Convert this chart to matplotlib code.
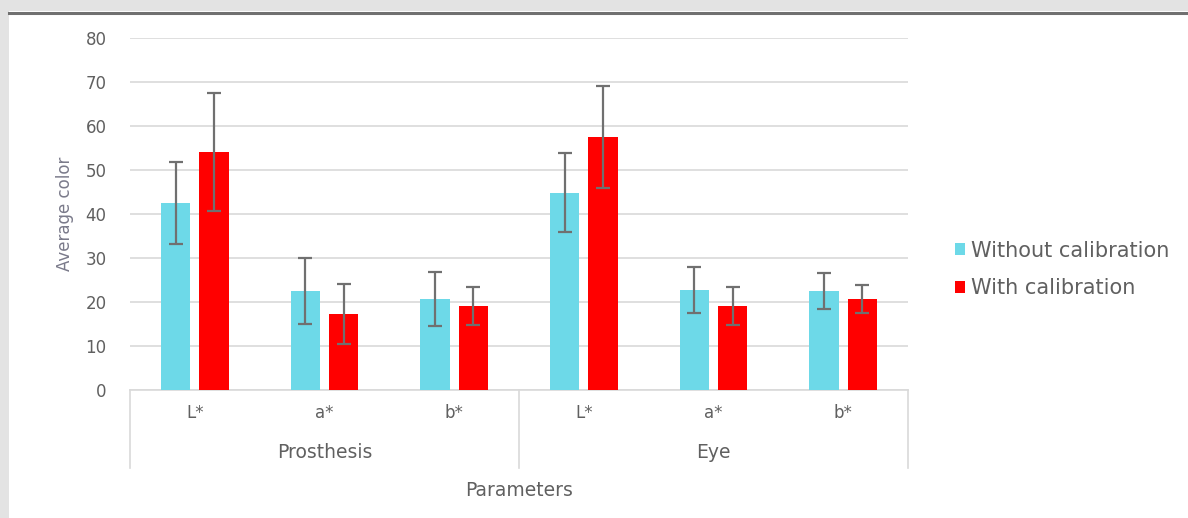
import numpy as np
import matplotlib
matplotlib.use('Agg')
import matplotlib.pyplot as plt
from matplotlib.patches import Rectangle
from matplotlib.lines import Line2D

plt.rcParams['font.family'] = ['DejaVu Sans']

# 数据
params = ['L*', 'a*', 'b*', 'L*', 'a*', 'b*']
groups = ['Prosthesis', 'Eye']
without_cal = [42.5, 22.5, 20.7, 44.8, 22.7, 22.5]
without_err = [9.3, 7.6, 6.2, 9.0, 5.2, 4.1]
with_cal = [54.1, 17.3, 19.1, 57.5, 19.1, 20.7]
with_err = [13.5, 6.8, 4.3, 11.5, 4.3, 3.2]

cyan = '#6dd9e8'
red = '#ff0000'
grey_txt = '#606060'

fig = plt.figure(figsize=(11.88, 5.18), dpi=100)
fig.patch.set_facecolor('white')

# 外框背景
fig.patches.append(Rectangle((0, 1 - 11 / 518), 1, 11 / 518, transform=fig.transFigure,
                             facecolor='#e3e3e3', edgecolor='none', zorder=0))
fig.patches.append(Rectangle((0, 0), 9 / 1188, 1, transform=fig.transFigure,
                             facecolor='#e3e3e3', edgecolor='none', zorder=0))
fig.lines.append(Line2D([9 / 1188, 1], [1 - 13 / 518, 1 - 13 / 518], transform=fig.transFigure,
                        color='#707070', lw=2.2))

ax = fig.add_axes([130 / 1188, 1 - 390 / 518, 778 / 1188, 352 / 518])
x = np.arange(len(params))
w = 0.225
gap = 0.035
ax.bar(x - w / 2 - gap, without_cal, w, color=cyan, yerr=without_err,
       error_kw=dict(ecolor='#707070', elinewidth=1.6, capsize=5, capthick=1.6),
       label='Without calibration', zorder=3)
ax.bar(x + w / 2 + gap, with_cal, w, color=red, yerr=with_err,
       error_kw=dict(ecolor='#707070', elinewidth=1.6, capsize=5, capthick=1.6),
       label='With calibration', zorder=3)

ax.set_xlim(-0.5, len(params) - 0.5)
ax.set_ylim(0, 80)
ax.set_yticks(range(0, 81, 10))
ax.yaxis.grid(True, color='#d9d9d9', lw=1.2)
ax.set_axisbelow(True)
for s in ['top', 'right', 'left']:
    ax.spines[s].set_visible(False)
ax.spines['bottom'].set_color('#d9d9d9')
ax.spines['bottom'].set_linewidth(1.2)
ax.tick_params(axis='y', length=0, pad=17, labelsize=12, labelcolor=grey_txt)
ax.tick_params(axis='x', length=0, pad=10, labelsize=12, labelcolor=grey_txt)
ax.set_xticks(x)
ax.set_xticklabels(params)

# 多级分类轴
trans = ax.get_xaxis_transform()
for xs in [-0.5, 2.5, 5.5]:
    ax.plot([xs, xs], [0, -78 / 352], transform=trans, color='#d9d9d9', lw=1.2, clip_on=False)
for i, g in enumerate(groups):
    ax.text(1 + 3 * i, -62 / 352, g, transform=trans, ha='center', va='center',
            fontsize=13.5, color=grey_txt)
ax.text(2.5, -100 / 352, 'Parameters', transform=trans, ha='center', va='center',
        fontsize=13.5, color=grey_txt)
ax.set_ylabel('Average color', fontsize=12, color='#7a7a8a', labelpad=8)

leg = fig.legend(loc='upper left', bbox_to_anchor=(936 / 1188, 1 - 222 / 518),
                 frameon=False, fontsize=15, handlelength=0.5, handleheight=0.5,
                 handletextpad=0.3, labelspacing=0.85, labelcolor=grey_txt)

fig.savefig('out.png', dpi=100)
